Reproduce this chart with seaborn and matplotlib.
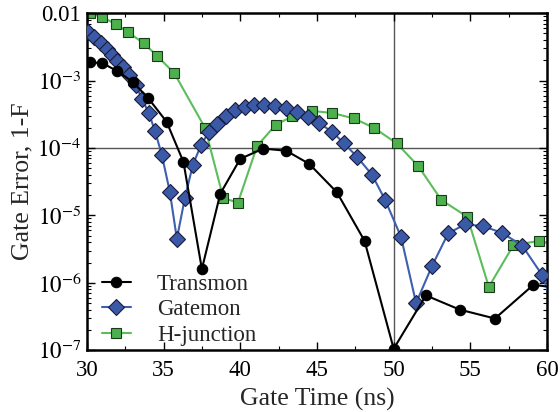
import matplotlib
matplotlib.use("Agg")
import matplotlib.pyplot as plt
import matplotlib.ticker as mticker
import numpy as np
import pandas as pd
import seaborn as sns

# ---- data ----
transmon_t = [30.2, 31.0, 32.0, 33.0, 34.0, 35.2, 36.3, 37.5, 38.7, 40.0,
              41.5, 43.0, 44.5, 46.3, 48.1, 50.0, 52.1, 54.3, 56.6, 59.1, 61.6]
transmon_err = [1.86e-3, 1.82e-3, 1.38e-3, 9.5e-4, 5.5e-4, 2.45e-4, 6.2e-5, 1.6e-6,
                2.1e-5, 6.9e-5, 9.8e-5, 9.1e-5, 5.8e-5, 2.2e-5, 4.2e-6, 1.05e-7,
                6.5e-7, 4.0e-7, 2.95e-7, 9.3e-7, 8.0e-7]

gatemon_t = [30.07, 30.46, 30.91, 31.30, 31.63, 31.96, 32.35, 32.74, 33.20, 33.59,
             34.04, 34.44, 34.89, 35.41, 35.87, 36.39, 36.91, 37.44, 37.96, 38.48,
             39.07, 39.65, 40.31, 40.89, 41.55, 42.26, 42.98, 43.70, 44.42, 45.13,
             45.98, 46.76, 47.61, 48.59, 49.44, 50.48, 51.46, 52.50, 53.55, 54.66,
             55.83, 57.07, 58.38, 59.68, 61.0]
gatemon_err = [5.2e-3, 4.4e-3, 3.6e-3, 2.9e-3, 2.4e-3, 1.95e-3, 1.58e-3, 1.2e-3, 8.5e-4, 5.4e-4,
               3.3e-4, 1.8e-4, 7.9e-5, 2.24e-5, 4.5e-6, 1.8e-5, 5.6e-5, 1.1e-4, 1.74e-4, 2.3e-4,
               2.95e-4, 3.6e-4, 4.05e-4, 4.4e-4, 4.4e-4, 4.2e-4, 3.9e-4, 3.4e-4, 2.9e-4, 2.35e-4,
               1.74e-4, 1.18e-4, 7.4e-5, 4.0e-5, 1.7e-5, 4.8e-6, 5.0e-7, 1.78e-6, 5.4e-6, 7.4e-6,
               6.9e-6, 5.5e-6, 3.55e-6, 1.3e-6, 2.0e-7]

hjunc_t = [30.2, 31.0, 31.9, 32.7, 33.7, 34.6, 35.7, 37.7, 38.9, 39.85,
           41.1, 42.3, 43.4, 44.7, 46.0, 47.4, 48.7, 50.2, 51.6, 53.1,
           54.8, 56.2, 57.8, 59.5, 61.0]
hjunc_err = [1.0e-2, 8.7e-3, 6.9e-3, 5.2e-3, 3.6e-3, 2.3e-3, 1.29e-3, 2.0e-4, 1.8e-5, 1.55e-5,
             1.07e-4, 2.2e-4, 2.95e-4, 3.55e-4, 3.3e-4, 2.75e-4, 2.0e-4, 1.17e-4, 5.4e-5, 1.7e-5,
             9.5e-6, 8.7e-7, 3.6e-6, 4.2e-6, 3.4e-6]

x_ticks = [30, 35, 40, 45, 50, 55, 60]
y_ticks = [1e-7, 1e-6, 1e-5, 1e-4, 1e-3, 1e-2]
y_tick_labels = [r"$10^{-7}$", r"$10^{-6}$", r"$10^{-5}$", r"$10^{-4}$", r"$10^{-3}$", "0.01"]

ref_time = 50
ref_err = 1e-4

# ---- style ----
sns.set_theme(style="ticks")
plt.rcParams["font.family"] = ["Liberation Serif", "DejaVu Serif"]
plt.rcParams["mathtext.fontset"] = "stix"

fig, ax = plt.subplots(figsize=(5.6, 4.12), dpi=100)
fig.subplots_adjust(left=0.155, right=0.977, bottom=0.150, top=0.968)

ax.axvline(ref_time, color="#555555", lw=1.0, zorder=0.5)
ax.axhline(ref_err, color="#555555", lw=1.0, zorder=0.5)

df_t = pd.DataFrame({"t": transmon_t, "err": transmon_err})
df_g = pd.DataFrame({"t": gatemon_t, "err": gatemon_err})
df_h = pd.DataFrame({"t": hjunc_t, "err": hjunc_err})

sns.lineplot(data=df_t, x="t", y="err", ax=ax, color="black", lw=1.5,
             marker="o", markersize=7.5, markeredgecolor="black", markeredgewidth=0.8,
             label="Transmon", zorder=4, estimator=None, sort=False)
sns.lineplot(data=df_g, x="t", y="err", ax=ax, color="#3d5fb0", lw=1.5,
             marker="D", markersize=7.8, markerfacecolor="#3a5aa8",
             markeredgecolor="#1a1a3a", markeredgewidth=0.8,
             label="Gatemon", zorder=3, estimator=None, sort=False)
sns.lineplot(data=df_h, x="t", y="err", ax=ax, color="#5cbd5c", lw=1.5,
             marker="s", markersize=7, markerfacecolor="#4cb04c",
             markeredgecolor="#1a3a1a", markeredgewidth=0.8,
             label="H-junction", zorder=2, estimator=None, sort=False)

ax.set_yscale("log")
ax.set_xlim(30, 60)
ax.set_ylim(1e-7, 1e-2)
ax.set_xticks(x_ticks)
ax.xaxis.set_minor_locator(mticker.MultipleLocator(2.5))
ax.set_yticks(y_ticks)
ax.set_yticklabels(y_tick_labels)
ax.yaxis.set_minor_locator(mticker.LogLocator(base=10, subs=np.arange(2, 10)))
ax.yaxis.set_minor_formatter(mticker.NullFormatter())

ax.tick_params(which="both", direction="in", top=True, right=True, labelsize=16.5,
               colors="black")
ax.tick_params(which="major", length=6, width=1.0)
ax.tick_params(axis="x", which="major", pad=7)
ax.tick_params(axis="y", which="major", pad=4)
ax.tick_params(which="minor", length=3, width=0.8)
for sp in ax.spines.values():
    sp.set_linewidth(1.8)
    sp.set_color("black")

ax.set_xlabel("Gate Time (ns)", fontsize=18.5, labelpad=5)
ax.set_ylabel("Gate Error, 1-F", fontsize=18.5, labelpad=2.5)

ax.legend(loc="lower left", bbox_to_anchor=(0.033, 0.013), frameon=False,
          fontsize=16.5, handlelength=1.25, handletextpad=1.15,
          labelspacing=0.2, borderpad=0.0, borderaxespad=0.0)

fig.savefig("out.png", dpi=100)
